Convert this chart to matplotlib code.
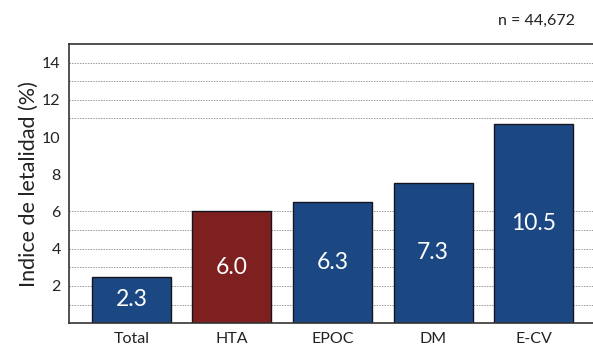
import matplotlib
matplotlib.use("Agg")
import matplotlib.pyplot as plt

categories = ["Total", "HTA", "EPOC", "DM", "E-CV"]
heights = [2.5, 6.0, 6.5, 7.55, 10.68]
value_labels = ["2.3", "6.0", "6.3", "7.3", "10.5"]
bar_colors = ["#1b4883", "#7e1f20", "#1b4883", "#1b4883", "#1b4883"]
grid_levels = [1, 2, 3, 4, 5, 6, 11, 12, 13, 14]
y_ticks = [2, 4, 6, 8, 10, 12, 14]

plt.rcParams['font.family'] = ['Lato', 'DejaVu Sans']

fig = plt.figure(figsize=(5.93, 3.49), dpi=100)
ax = fig.add_axes([0.1164, 0.074, 0.8836, 0.8])

# dotted guide lines behind the bars
for g in grid_levels:
    ax.axhline(g, color="#999999", linestyle=(0, (1.5, 1.2)), linewidth=0.7, zorder=0)

x = list(range(len(categories)))
ax.bar(x, heights, width=0.785, color=bar_colors, edgecolor="#15151f",
       linewidth=1.0, zorder=2)

for xi, h, lab in zip(x, heights, value_labels):
    ax.text(xi, h / 2, lab, ha="center", va="center", color="white",
            fontsize=16.5, zorder=3)

ax.set_xlim(-0.62, 4.59)
ax.set_ylim(0, 15)
ax.set_xticks(x)
ax.set_xticklabels(categories, fontsize=11.5, color="#222222")
ax.set_yticks(y_ticks)
ax.set_yticklabels([str(t) for t in y_ticks], fontsize=11.5, color="#222222")
ax.tick_params(axis="both", length=0)
ax.tick_params(axis="y", pad=6)
ax.tick_params(axis="x", pad=6)

ax.set_ylabel("Indice de letalidad (%)", fontsize=15.5, color="#222222", labelpad=2)

for side in ["left", "bottom", "top"]:
    ax.spines[side].set_color("#333333")
    ax.spines[side].set_linewidth(1.2)
ax.spines["right"].set_visible(False)

fig.text(0.97, 0.94, "n = 44,672", ha="right", va="center", fontsize=11.5, color="#222222")

fig.savefig("out.png", dpi=100)
